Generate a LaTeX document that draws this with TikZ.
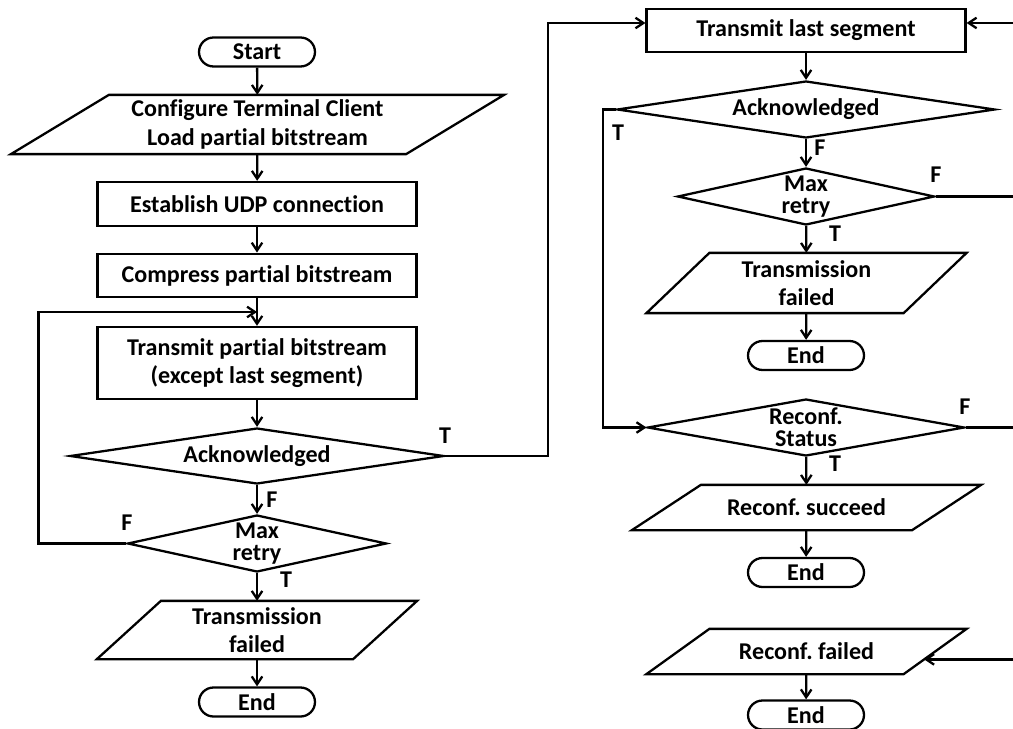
\documentclass[tikz,border=0pt]{standalone}
\usepackage{fontspec}
\setmainfont{Carlito}[Ligatures=NoCommon]
\usetikzlibrary{shapes.geometric,arrows.meta,calc}
\frenchspacing

\tikzset{
  base/.style={draw, line width=1.3pt, font=\bfseries\fontsize{13.7}{16}\selectfont, align=center, inner sep=0pt},
  term/.style={base, rectangle, rounded corners=0.29cm, minimum width=2.32cm, minimum height=0.58cm},
  procbox/.style={base, rectangle, minimum width=6.38cm, minimum height=0.87cm},
  iobox/.style={base, draw=none, rectangle},
  decide/.style={base, diamond, font=\bfseries\fontsize{13.7}{12.6}\selectfont},
  lbl/.style={font=\bfseries\fontsize{13.7}{15}\selectfont, inner sep=0pt},
  arr/.style={line width=1.3pt, -{Straight Barb[length=4.5pt,width=6pt]}},
  line/.style={line width=1.3pt}
}
% parallelogram round a plain node: name, slant
\newcommand{\iopath}[2]{\draw[line] ([xshift=-#2/2]#1.south west) -- ([xshift=-#2/2]#1.south east) -- ([xshift=#2/2]#1.north east) -- ([xshift=#2/2]#1.north west) -- cycle;}

\begin{document}
\begin{tikzpicture}[x=0.02cm,y=-0.02cm]
\useasboundingbox (0,0) rectangle (1013,729);
\clip (0,0) rectangle (1013,729);

% Left column
\node[term] (start) at (257,52) {Start};
\node[iobox, minimum width=7.86cm, minimum height=1.14cm] (cfg) at (257.5,124.5) {Configure Terminal Client\\Load partial bitstream};
\node[procbox, minimum height=0.88cm] (est) at (257,204) {Establish UDP connection};
\node[procbox] (comp) at (257,275.5) {Compress partial bitstream};
\node[procbox, minimum height=1.44cm] (tp) at (257,363) {Transmit partial bitstream\\(except last segment)};
\node[decide, aspect=6.68, minimum width=7.48cm, minimum height=1.12cm] (ack1) at (257,456) {Acknowledged};
\node[decide, aspect=4.54, minimum width=5.18cm, minimum height=1.14cm] (mr1) at (257,543.5) {Max\\retry};
\node[iobox, minimum width=5.08cm, minimum height=1.12cm] (tf1) at (257,630) {Transmission\\failed};
\node[term] (end1) at (257,702) {End};
\coordinate (j1) at (257,312);

% Right column
\node[procbox, minimum height=0.86cm] (tls) at (806,30.5) {Transmit last segment};
\node[decide, aspect=6.63, minimum width=7.56cm, minimum height=1.14cm] (ack2) at (806,109.5) {Acknowledged};
\node[decide, aspect=4.5, minimum width=5.14cm, minimum height=1.14cm] (mr2) at (806,196.5) {Max\\retry};
\node[iobox, minimum width=5.10cm, minimum height=1.16cm] (tf2) at (806.5,283) {Transmission\\failed};
\node[term] (end2) at (806,355.5) {End};
\node[decide, aspect=5.56, minimum width=6.34cm, minimum height=1.14cm] (rs) at (806,427.5) {Reconf.\\Status};
\node[iobox, minimum width=5.56cm, minimum height=0.86cm] (rsu) at (806.5,507.5) {Reconf. succeed};
\node[term] (end3) at (806,572.5) {End};
\node[iobox, minimum width=5.10cm, minimum height=0.86cm] (rf) at (806.5,651.5) {Reconf. failed};
\node[term] (end4) at (806,715) {End};
\coordinate (xR) at (1030,0);
\coordinate (rfin) at ($([xshift=0.63cm]rf.north east)!0.674!([xshift=-0.63cm]rf.south east)$);

% Parallelograms
\iopath{cfg}{1.96cm}
\iopath{tf1}{1.28cm}
\iopath{tf2}{1.26cm}
\iopath{rsu}{1.38cm}
\iopath{rf}{1.26cm}

% Branch labels
\node[lbl] (tA1) at (445,436) {T};
\node[lbl] (fA1) at (272,500) {F};
\node[lbl] (fM1) at (127,523) {F};
\node[lbl] (tM1) at (286,580) {T};
\node[lbl] (tA2) at (618,133) {T};
\node[lbl] (fA2) at (820,148) {F};
\node[lbl] (fM2) at (936,175) {F};
\node[lbl] (tM2) at (835,234) {T};
\node[lbl] (fR) at (965,407) {F};
\node[lbl] (tR) at (835,464) {T};

% Connectors, left
\draw[arr] (start) -- (cfg);
\draw[arr] (cfg) -- (est);
\draw[arr] (est) -- (comp);
\draw[arr] (comp) -- (tp);
\draw[arr] (tp) -- (ack1);
\draw[arr] (ack1) -- (mr1);
\draw[arr] (mr1) -- (tf1);
\draw[arr] (tf1) -- (end1);
\draw[arr] (mr1.west) -- ++(-88,0) |- (j1);
\draw[arr] (ack1.east) -- ++(103,0) |- ([yshift=0.15cm]tls.west);

% Connectors, right
\draw[arr] (tls) -- (ack2);
\draw[arr] (ack2) -- (mr2);
\draw[arr] (mr2) -- (tf2);
\draw[arr] (tf2) -- (end2);
\draw[arr] (rs) -- (rsu);
\draw[arr] (rsu) -- (end3);
\draw[arr] (rf) -- (end4);
\draw[arr] (ack2.west) -- ++(-13,0) |- (rs.west);
\draw[arr] (mr2.east) -- (mr2.east -| xR) |- ([yshift=0.15cm]tls.east);
\draw[arr] (rs.east) -- (rs.east -| xR) |- (rfin);
\end{tikzpicture}
\end{document}
